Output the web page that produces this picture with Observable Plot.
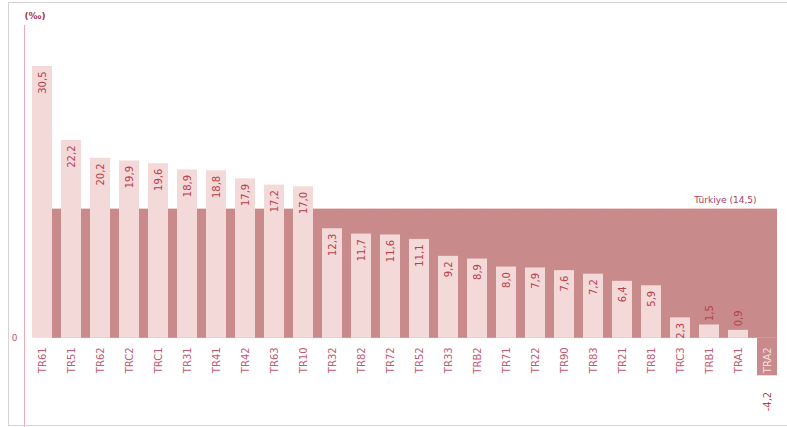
<!DOCTYPE html>
<html>
<head>
<meta charset="utf-8">
<script src="https://cdn.jsdelivr.net/npm/d3@7"></script>
<script src="https://cdn.jsdelivr.net/npm/@observablehq/plot@0.6"></script>
<style>
  html, body { margin: 0; padding: 0; background: #fff; }
  #wrap { position: relative; width: 787px; height: 427px; overflow: hidden; }
  #border { position: absolute; left: 8px; top: 2px; width: 790px; height: 422px;
            border-top: 1px solid #d4d4d4; border-left: 1px solid #d4d4d4; border-bottom: 1px solid #d4d4d4; pointer-events: none; }
</style>
</head>
<body>
<div id="wrap"><div id="border"></div></div>
<script>
const regions = ["TR61","TR51","TR62","TRC2","TRC1","TR31","TR41","TR42","TR63","TR10",
                 "TR32","TR82","TR72","TR52","TR33","TRB2","TR71","TR22","TR90","TR83",
                 "TR21","TR81","TRC3","TRB1","TRA1","TRA2"];
const values  = [30.5,22.2,20.2,19.9,19.6,18.9,18.8,17.9,17.2,17.0,
                 12.3,11.7,11.6,11.1,9.2,8.9,8.0,7.9,7.6,7.2,
                 6.4,5.9,2.3,1.5,0.9,-4.2];
const turkiyeValue = 14.5;
const turkiyeLabel = "Türkiye (14,5)";
const unitLabel = "(‰)";
const yTicks = [0];

const data = regions.map((r, i) => ({region: r, value: values[i]}));
const fmt = v => d3.format(".1f")(v).replace(".", ",").replace("−", "-");

const light = "#f4d9d9";
const band = "#c98a8c";
const negFill = "#c98a8c";
const valColor = "#b8404e";
const catColor = "#c25a72";

const chart = Plot.plot({
  width: 787,
  height: 427,
  marginLeft: 21,
  marginRight: -1,
  marginTop: 25,
  marginBottom: 0,
  style: {fontFamily: "DejaVu Sans, Verdana, sans-serif", background: "transparent"},
  x: {domain: regions, padding: 0.31, axis: null},
  y: {domain: [-10, 35.1], axis: null},
  marks: [
    Plot.frame({anchor: "left", stroke: "#eeaabb", dx: 3}),
    Plot.axisY({ticks: yTicks, tickSize: 0, tickPadding: 4, tickFormat: d => String(d), fontSize: 9, color: catColor, label: null}),
    // Türkiye average band
    Plot.barY(data.slice(1), {x: "region", y: () => turkiyeValue, fill: band, insetLeft: -9.4}),
    Plot.barY(data.filter(d => d.value >= 0), {x: "region", y: "value", fill: light}),
    Plot.barY(data.filter(d => d.value < 0), {x: "region", y: "value", fill: negFill}),
    Plot.text(data.filter(d => d.value >= 2), {x: "region", y: "value", text: d => fmt(d.value),
      rotate: -90, textAnchor: "end", dy: 5, fill: valColor, fontSize: 10}),
    Plot.text(data.filter(d => d.value >= 0 && d.value < 2), {x: "region", y: "value", text: d => fmt(d.value),
      rotate: -90, textAnchor: "start", dy: -4, fill: valColor, fontSize: 10}),
    Plot.text(data.filter(d => d.value < 0), {x: "region", y: "value", text: d => fmt(d.value),
      rotate: -90, textAnchor: "end", dy: 16, fill: valColor, fontSize: 10}),
    Plot.text(data.filter(d => d.value >= 0), {x: "region", y: () => 0, text: "region",
      rotate: -90, textAnchor: "end", dy: 9, fill: catColor, fontSize: 10}),
    Plot.text(data.filter(d => d.value < 0), {x: "region", y: () => 0, text: "region",
      rotate: -90, textAnchor: "end", dy: 9, fill: "#f6dede", fontSize: 10}),
    Plot.text([turkiyeValue], {x: () => regions[regions.length - 1], y: d => d, text: () => turkiyeLabel,
      textAnchor: "end", dx: -11, dy: -9, fill: "#a8405a", fontSize: 9}),
    Plot.text([unitLabel], {frameAnchor: "top-left", text: d => d, textAnchor: "start",
      dx: 3, dy: -13, fill: "#9c3a55", fontSize: 9, fontWeight: "bold"})
  ]
});
document.getElementById("wrap").prepend(chart);
</script>
</body>
</html>
